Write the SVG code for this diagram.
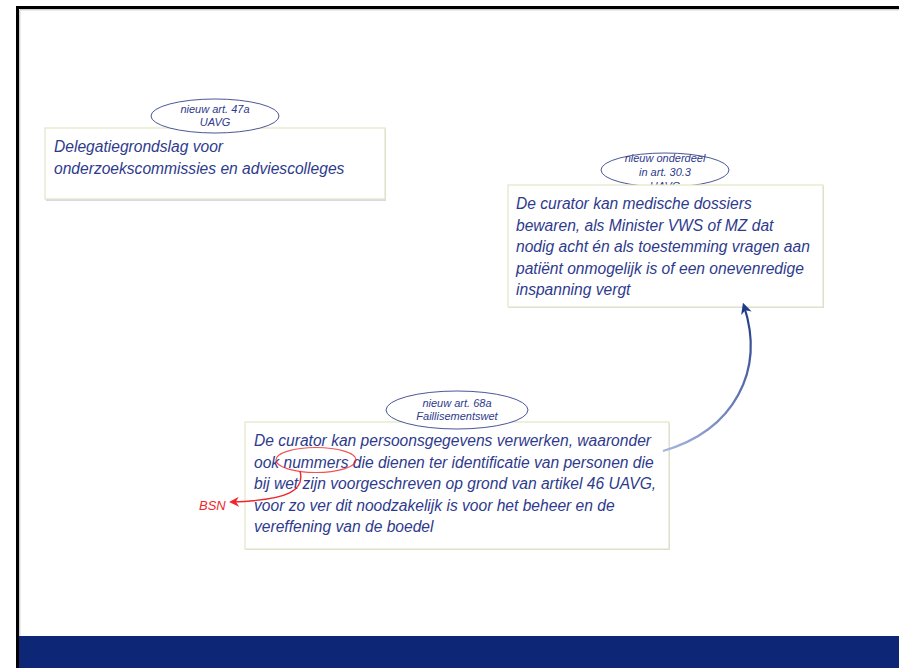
<svg xmlns="http://www.w3.org/2000/svg" width="899" height="668" viewBox="0 0 899 668">
<defs>
<style>
.box{fill:#ffffff;stroke:#E3E5C6;stroke-width:1.2}
.shadow{fill:#D9D9E0}
.oval{fill:#ffffff;stroke:#34448C;stroke-width:0.9}
.lbl{font-family:"Liberation Sans",Arial,sans-serif;font-style:italic;font-size:11px;fill:#2E3A8C;text-anchor:middle}
.body{font-family:"Liberation Sans",Arial,sans-serif;font-style:italic;font-size:15.6px;fill:#2E3A8C}
.red{font-family:"Liberation Sans",Arial,sans-serif;font-style:italic;font-size:13px;fill:#F0262B}
</style>
<linearGradient id="blueGrad" x1="663" y1="450" x2="745" y2="305" gradientUnits="userSpaceOnUse">
<stop offset="0" stop-color="#A5B4DD"/>
<stop offset="1" stop-color="#1F3A86"/>
</linearGradient>
<marker id="blueHead" viewBox="0 0 10 10" refX="7" refY="5" markerWidth="5" markerHeight="5" orient="auto" markerUnits="strokeWidth">
<path d="M0,0 L10,5 L0,10 L3,5 Z" fill="#1F3A86"/>
</marker>
<marker id="redHead" viewBox="0 0 10 10" refX="7" refY="5" markerWidth="7" markerHeight="7" orient="auto" markerUnits="strokeWidth">
<path d="M0,0 L10,5 L0,10 L3,5 Z" fill="#F0262B"/>
</marker>
</defs>
<rect x="0" y="0" width="899" height="668" fill="#ffffff"/>
<g id="frame">
<line x1="20" y1="9.8" x2="899" y2="9.8" stroke="#BDBDBD" stroke-width="1"/>
<line x1="19.8" y1="10" x2="19.8" y2="668" stroke="#BDBDBD" stroke-width="1"/>
<line x1="16" y1="7.5" x2="899" y2="7.5" stroke="#000000" stroke-width="3"/>
<line x1="17.5" y1="6" x2="17.5" y2="668" stroke="#000000" stroke-width="3"/>
<rect x="19" y="636" width="880" height="32" fill="#0D2675"/>
</g>
<g id="node1">
<rect class="shadow" x="46" y="129" width="340" height="72"/>
<rect class="box" x="45" y="128" width="340" height="71"/>
<text class="body" x="54" y="152">Delegatiegrondslag voor</text>
<text class="body" x="54" y="174">onderzoekscommissies en adviescolleges</text>
<ellipse class="oval" cx="215" cy="116" rx="64" ry="17"/>
<text class="lbl" x="215" y="113">nieuw art. 47a</text>
<text class="lbl" x="215" y="126">UAVG</text>
</g>
<g id="node2">
<ellipse class="oval" cx="665" cy="170" rx="64" ry="17"/>
<text class="lbl" x="665" y="162">nieuw onderdeel</text>
<text class="lbl" x="665" y="176">in art. 30.3</text>
<text class="lbl" x="665" y="190">UAVG</text>
<rect class="shadow" x="509" y="186" width="315" height="122"/>
<rect class="box" x="508" y="185" width="315" height="122"/>
<text class="body" x="516" y="209">De curator kan medische dossiers</text>
<text class="body" x="516" y="231">bewaren, als Minister VWS of MZ dat</text>
<text class="body" x="516" y="252">nodig acht én als toestemming vragen aan</text>
<text class="body" x="516" y="274">patiënt onmogelijk is of een onevenredige</text>
<text class="body" x="516" y="295">inspanning vergt</text>
</g>
<g id="node3">
<rect class="shadow" x="246" y="423" width="424" height="127"/>
<rect class="box" x="245" y="422" width="424" height="127"/>
<text class="body" x="254" y="446">De curator kan persoonsgegevens verwerken, waaronder</text>
<text class="body" x="254" y="468">ook nummers die dienen ter identificatie van personen die</text>
<text class="body" x="254" y="489">bij wet zijn voorgeschreven op grond van artikel 46 UAVG,</text>
<text class="body" x="254" y="511">voor zo ver dit noodzakelijk is voor het beheer en de</text>
<text class="body" x="254" y="532">vereffening van de boedel</text>
<ellipse class="oval" cx="457" cy="410" rx="71" ry="19"/>
<text class="lbl" x="457" y="407">nieuw art. 68a</text>
<text class="lbl" x="457" y="420">Faillisementswet</text>
</g>
<g id="bsn">
<text class="red" x="199" y="510">BSN</text>
</g>
<g id="connectors">
<path d="M663,451 C735,430 765,370 744,306" fill="none" stroke="url(#blueGrad)" stroke-width="2.2" marker-end="url(#blueHead)"/>
<ellipse cx="316" cy="460" rx="40" ry="12.5" fill="none" stroke="#F0262B" stroke-width="1.2" opacity="0.8"/>
<path d="M300,471 C305,490 290,500 232,502" fill="none" stroke="#F0262B" stroke-width="1.4" marker-end="url(#redHead)"/>
</g>
</svg>
